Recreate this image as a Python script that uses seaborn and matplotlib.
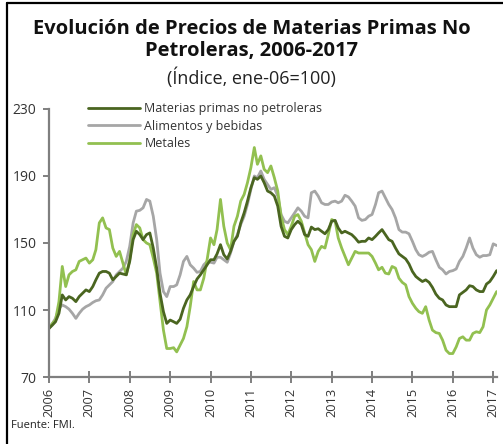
import numpy as np
import pandas as pd
import matplotlib
matplotlib.use("Agg")
import matplotlib.pyplot as plt
import matplotlib.dates as mdates
from matplotlib.lines import Line2D
import seaborn as sns

# ---- data (monthly, ene-2006 .. feb-2017, índice ene-06 = 100) ----
start_month = "2006-01-01"
series_names = ["Materias primas no petroleras", "Alimentos y bebidas", "Metales"]

materias = [
    99, 101, 103, 108, 119, 116, 118, 117, 115, 118, 120, 122,
    121, 124, 128, 132, 133, 133, 132, 128, 130, 132, 131.5, 131,
    139, 152, 157, 155, 152, 155, 156, 147, 135, 120, 109, 102,
    104, 103, 102, 104.5, 111, 116, 119, 124, 128.5, 131, 134, 137,
    140, 140, 143.5, 149, 143, 140.5, 145, 151, 154, 162, 168, 175,
    183, 189, 188, 190, 186, 181, 180, 178, 172, 160, 154, 153,
    158, 161, 163, 161, 155, 154, 159.5, 158, 158.5, 157, 155.5, 158,
    163, 163.5, 159, 156, 157, 156, 155, 153, 150.5, 151, 151, 153,
    152, 154, 156, 158, 155, 152, 151, 147, 143.5, 142, 140.5, 137.5,
    133, 130, 128.5, 127, 128, 126.5, 123.5, 119.5, 117, 116, 113, 112,
    112, 112, 119, 120.5, 122, 124.5, 124, 122, 121, 121, 125.5, 127,
    130, 133.5,
]

alimentos = [
    99, 102, 105, 111, 113, 112, 110.5, 108, 105, 108, 110.5, 112,
    113, 114.5, 115.5, 116, 119, 123, 125, 127, 131, 133, 135, 139,
    148, 162, 169, 169.5, 171, 176, 175, 166, 152, 132, 121, 118,
    124, 124, 125, 131, 139, 142, 137, 135, 132.5, 133, 137, 139,
    138.5, 138, 141.5, 141.5, 140, 138.5, 144, 151, 155, 161, 166, 173,
    182, 190, 189, 193, 188, 185, 182, 183, 178, 167, 163, 162,
    165, 168, 171, 169, 166, 165, 180, 181, 178, 174, 173, 173,
    174.5, 175, 174, 175, 178.5, 177.5, 175, 172, 165, 163.5, 164, 166,
    167, 173, 180, 181, 177, 173, 170, 165, 158, 156.5, 156.5, 155.5,
    151, 146, 143, 142, 143, 144.5, 145, 140, 135.5, 134, 131.5, 133,
    133.5, 134.5, 139, 142, 147, 153, 147, 143, 141.5, 142.5, 142.5, 143,
    149.5, 148.5,
]

metales = [
    99, 102, 104, 115, 136, 124, 131, 133, 134, 139, 140, 141,
    138, 140, 146, 162, 165, 159, 158, 147, 142, 145, 138, 131,
    140, 155, 161, 159, 152, 150, 149, 141, 132, 115, 98, 87,
    87, 87.5, 85, 89, 93, 100, 112, 127, 122, 122, 129, 140,
    153, 149, 158, 176, 160, 150, 146, 160, 166, 175, 179, 186,
    195, 207, 197, 202, 194, 192, 196, 189, 181, 166, 158, 155,
    160, 166, 167, 163, 156, 149, 146, 139, 145, 148, 147, 155,
    164, 163, 153, 147, 142, 137, 141, 145, 144, 144, 144, 144,
    142, 138, 134, 135.5, 132, 131.5, 136, 135, 129, 126.5, 125, 118,
    114, 111, 109, 108, 112, 104, 98, 96.5, 96, 92, 86, 84,
    84, 88, 93, 94, 92, 92, 96, 97, 96.5, 100, 110, 113,
    117, 121,
]

y_ticks = [70, 110, 150, 190, 230]
year_ticks = list(range(2006, 2018))

title_text = "Evolución de Precios de Materias Primas No\nPetroleras, 2006-2017"
subtitle_text = "(Índice, ene-06=100)"
source_text = "Fuente: FMI."

# ---- build table ----
dates = pd.date_range(start_month, periods=len(materias), freq="MS")
df = pd.concat([
    pd.DataFrame({"fecha": dates, "valor": vals, "serie": name})
    for name, vals in zip(series_names, [materias, alimentos, metales])
])

colors = {
    "Materias primas no petroleras": "#4a6520",
    "Alimentos y bebidas": "#a6a6a6",
    "Metales": "#92c050",
}

sns.set_theme(style="white")
plt.rcParams["font.family"] = ["Open Sans", "DejaVu Sans"]

fig = plt.figure(figsize=(5.03, 4.44), dpi=100)
ax = fig.add_axes([49 / 503, 1 - 377 / 444, (497 - 49) / 503, (377 - 109) / 444])

order_draw = ["Alimentos y bebidas", "Metales", "Materias primas no petroleras"]
for name in order_draw:
    sub = df[df["serie"] == name]
    sns.lineplot(data=sub, x="fecha", y="valor", color=colors[name], lw=2.0,
                 ax=ax, label=None, legend=False)

ax.set_xlim(pd.Timestamp("2006-01-01"), pd.Timestamp("2017-02-04"))
ax.set_ylim(y_ticks[0], y_ticks[-1])
ax.set_yticks(y_ticks)
ax.set_xticks([pd.Timestamp(f"{y}-01-01") for y in year_ticks])
ax.set_xticklabels([str(y) for y in year_ticks], rotation=90)
ax.set_xlabel("")
ax.set_ylabel("")

spine_col = "#7f7f7f"
for s in ["top", "right"]:
    ax.spines[s].set_visible(False)
for s in ["left", "bottom"]:
    ax.spines[s].set_color(spine_col)
    ax.spines[s].set_linewidth(1.6)
ax.tick_params(axis="y", direction="out", length=4, width=1.4, color=spine_col,
               labelsize=10, labelcolor="#333333", pad=5, left=True)
ax.tick_params(axis="x", direction="inout", length=8, width=1.4, color=spine_col,
               labelsize=9.2, labelcolor="#333333", pad=4, bottom=True)

handles = [Line2D([], [], color=colors[n], lw=2.0) for n in series_names]
leg = ax.legend(handles, series_names, loc="upper left", bbox_to_anchor=(0.075, 1.045),
                frameon=False, fontsize=9, handlelength=4.2, handletextpad=0.35,
                labelspacing=0.38, borderaxespad=0)
for t in leg.get_texts():
    t.set_color("#333333")

fig.text(0.5, 1 - 40 / 444, title_text, ha="center", va="center",
         fontsize=14.5, fontweight="bold", color="#111111", linespacing=1.1)
fig.text(0.5, 1 - 78 / 444, subtitle_text, ha="center", va="center",
         fontsize=13, color="#222222")
fig.text(11 / 503, 1 - 425 / 444, source_text, ha="left", va="center",
         fontsize=8, color="#222222")

fig.add_artist(Line2D([7 / 503, 7 / 503], [0, 1 - 3 / 444], transform=fig.transFigure,
                      color="black", lw=1.6))
fig.add_artist(Line2D([7 / 503, 1], [1 - 3 / 444, 1 - 3 / 444], transform=fig.transFigure,
                      color="black", lw=1.6))

fig.savefig("out.png", dpi=100)
